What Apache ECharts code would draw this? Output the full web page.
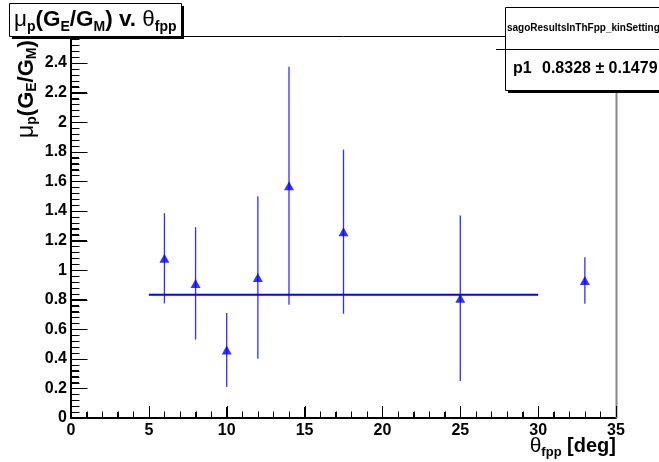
<!DOCTYPE html>
<html><head><meta charset="utf-8">
<script src="https://cdn.jsdelivr.net/npm/echarts@6/dist/echarts.min.js"></script>
<style>html,body{margin:0;padding:0;background:#fff}#c{width:659px;height:462px}</style>
</head><body><div id="c"></div>
<script>
const thetaFpp = [6, 8, 10, 12, 14, 17.5, 25, 33];
const ratio    = [1.08, 0.91, 0.46, 0.95, 1.57, 1.26, 0.81, 0.93];
const ratioErr = [0.305, 0.38, 0.25, 0.55, 0.805, 0.555, 0.56, 0.157];
const fitP1 = 0.8328;
const fitP1Err = 0.1479;
const fitRange = [5, 30];
const xTickLabels = ['0','5','10','15','20','25','30','35'];
const yTickLabels = ['0','0.2','0.4','0.6','0.8','1','1.2','1.4','1.6','1.8','2','2.2','2.4'];
const xRange = [0, 35];
const yRange = [0, 2.583];
const minorDiv = 5;

const F = '"Liberation Sans", Arial, sans-serif';
const pts = thetaFpp.map((x,i)=>[x, ratio[i], ratioErr[i]]);
const L=71, R=616, T=36, B=418;

function minorVals(majors, max){
  const out=[]; const step=(majors[1]-majors[0])/minorDiv;
  for(let i=0;i<majors.length;i++){
    for(let k=1;k<minorDiv;k++){const v=majors[i]+k*step; if(v<max-1e-9) out.push(v);}
  }
  return out;
}
const xMaj = xTickLabels.map(Number), yMaj = yTickLabels.map(Number);
const xMin = minorVals(xMaj, xRange[1]), yMin = minorVals(yMaj, yRange[1]);

const chart = echarts.init(document.getElementById('c'));
function lab(list){return v=>{const s=list.find(t=>Math.abs(+t-v)<1e-6);return s===undefined?'':s;};}
chart.setOption({
  animation:false,
  grid:{left:L, right:659-R, top:T, bottom:462-B},
  xAxis:{type:'value', min:xRange[0], max:xRange[1], interval:5,
    axisLine:{show:true, onZero:false, lineStyle:{color:'#000', width:2}},
    axisTick:{show:true, inside:true, length:11, lineStyle:{color:'#000', width:1}},
    minorTick:{show:true, splitNumber:5, length:6, lineStyle:{color:'#000', width:1}},
    splitLine:{show:false},
    axisLabel:{margin:5, color:'#000', fontFamily:F, fontWeight:'bold', fontSize:16, formatter:lab(xTickLabels)}
  },
  yAxis:{type:'value', min:yRange[0], max:yRange[1], interval:0.2,
    axisLine:{show:true, onZero:false, lineStyle:{color:'#000', width:2}},
    axisTick:{show:true, inside:true, length:16, lineStyle:{color:'#000', width:1}},
    minorTick:{show:true, splitNumber:5, length:8, lineStyle:{color:'#000', width:1}},
    splitLine:{show:false},
    axisLabel:{margin:4, color:'#000', fontFamily:F, fontWeight:'bold', fontSize:16, showMaxLabel:false, formatter:lab(yTickLabels)}
  },
  series:[
    {type:'custom', name:'err', data:pts, z:2,
      renderItem:(params, api)=>{
        const x=api.value(0), y=api.value(1), e=api.value(2);
        const p1=api.coord([x, y+e]), p2=api.coord([x, y-e]);
        return {type:'line', shape:{x1:p1[0], y1:p1[1], x2:p2[0], y2:p2[1]}, style:{stroke:'#2f2fff', lineWidth:1.3}};
      }},
    {type:'line', name:'fit', data:[[fitRange[0], fitP1],[fitRange[1], fitP1]], showSymbol:false, symbol:'none',
      lineStyle:{color:'#0000ff', width:2}, z:3},
    {type:'scatter', name:'data', data:pts.map(p=>[p[0],p[1]]), symbol:'triangle', symbolSize:[10,9],
      itemStyle:{color:'#0000ff'}, z:4}
  ]
});

// axis ticks as filled slivers, placed through the axes' own scales
const tickEls = [];
function xt(v,len){const p=chart.convertToPixel({xAxisIndex:0, yAxisIndex:0},[v,yRange[0]]); if(!p) return;
  tickEls.push({type:'rect', shape:{x:Math.round(p[0]), y:p[1]-1-len, width:1, height:len}, style:{fill:'#000'}, z:20, silent:true});}
function yt(v,len){const p=chart.convertToPixel({xAxisIndex:0, yAxisIndex:0},[xRange[0],v]); if(!p) return;
  tickEls.push({type:'rect', shape:{x:p[0]+1, y:Math.round(p[1]), width:len, height:1}, style:{fill:'#000'}, z:20, silent:true});}
try { xMaj.forEach(v=>xt(v,11)); xMin.forEach(v=>xt(v,5.5)); yMaj.forEach(v=>yt(v,15.5)); yMin.forEach(v=>yt(v,7.5)); } catch(e) {}

chart.setOption({graphic: tickEls.concat([
    {type:'line', shape:{x1:L, y1:T+0.5, x2:R, y2:T+0.5}, style:{stroke:'#000', lineWidth:1}, z:5},
    {type:'line', shape:{x1:R+0.5, y1:T, x2:R+0.5, y2:B}, style:{stroke:'#888', lineWidth:2}, z:5},
    {type:'rect', shape:{x:12, y:6, width:172, height:33}, style:{fill:'#000'}, z:10},
    {type:'rect', shape:{x:9.5, y:3.5, width:172, height:33}, style:{fill:'#fff', stroke:'#000', lineWidth:1}, z:11},
    {type:'text', left:14, top:5, z:12, style:{
      rich:{
        m:{fontFamily:F, fontSize:22.5, fill:'#000', lineHeight:27},
        b:{fontFamily:F, fontSize:22.5, fontWeight:'bold', fill:'#000', lineHeight:27},
        s:{fontFamily:F, fontSize:14, fontWeight:'bold', fill:'#000', lineHeight:14, padding:[15,0,0,0]}
      },
      text:'{m|μ}{s|p}{b|(G}{s|E}{b|/G}{s|M}{b|) v. }{m|θ}{s|fpp}'
    }},
    {type:'rect', shape:{x:508, y:10, width:160, height:83}, style:{fill:'#000'}, z:10},
    {type:'rect', shape:{x:505.5, y:7.5, width:160, height:83}, style:{fill:'#fff', stroke:'#000', lineWidth:1}, z:11},
    {type:'line', shape:{x1:496, y1:49.5, x2:659, y2:49.5}, style:{stroke:'#000', lineWidth:1}, z:12},
    {type:'text', left:507, top:23, z:12, style:{text:'sagoResultsInThFpp_kinSetting1', fontFamily:F, fontWeight:'bold', fontSize:10, fill:'#000'}},
    {type:'text', left:513, top:61, z:12, style:{text:'p1', fontFamily:F, fontWeight:'bold', fontSize:16, fill:'#000'}},
    {type:'text', left:542, top:61, z:12, style:{text:fitP1.toFixed(4)+' ± '+fitP1Err.toFixed(4), fontFamily:F, fontWeight:'bold', fontSize:16, fill:'#000'}},
    {type:'text', right:659-616, top:434, z:12, style:{
      rich:{
        m:{fontFamily:F, fontSize:21, fill:'#000', lineHeight:24},
        b:{fontFamily:F, fontSize:20, fontWeight:'bold', fill:'#000', lineHeight:24},
        s:{fontFamily:F, fontSize:13, fontWeight:'bold', fill:'#000', lineHeight:13, padding:[12,0,0,0]}
      },
      text:'{m|θ}{s|fpp}{b| [deg]}'
    }},
    {type:'text', x:14, y:138, rotation:Math.PI/2, z:12, style:{
      rich:{
        m:{fontFamily:F, fontSize:23, fill:'#000', lineHeight:25},
        b:{fontFamily:F, fontSize:22, fontWeight:'bold', fill:'#000', lineHeight:25},
        s:{fontFamily:F, fontSize:14, fontWeight:'bold', fill:'#000', lineHeight:14, padding:[12,0,0,0]}
      },
      text:'{m|μ}{s|p}{b|(G}{s|E}{b|/G}{s|M}{b|)}'
    }}
  ])});
</script></body></html>
